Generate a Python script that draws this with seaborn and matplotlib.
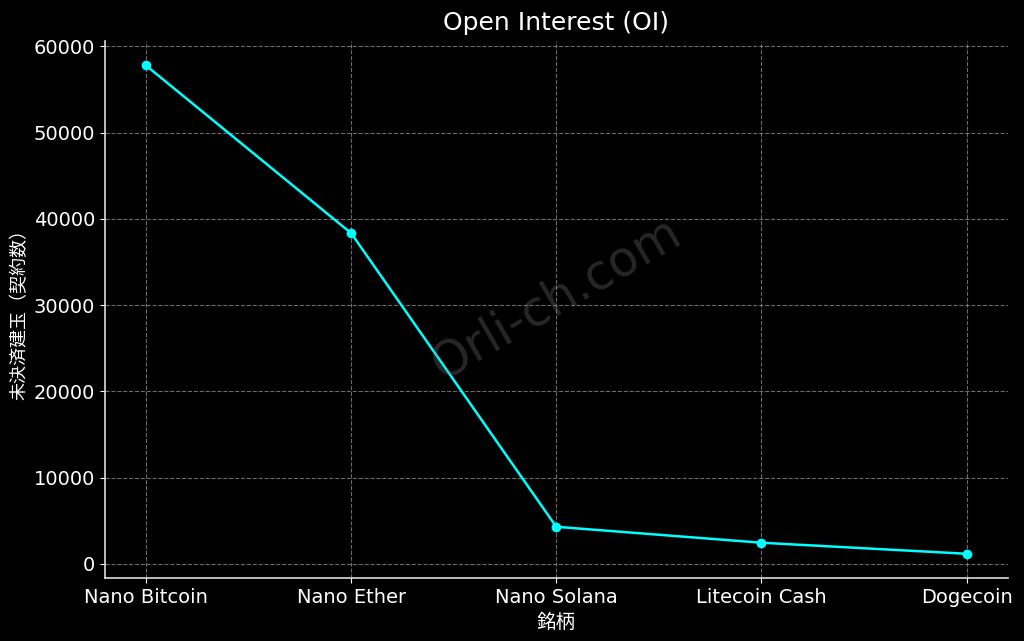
import numpy as np
import pandas as pd
import matplotlib
matplotlib.use('Agg')
import matplotlib.pyplot as plt
import seaborn as sns

# データ
symbols = ['Nano Bitcoin', 'Nano Ether', 'Nano Solana', 'Litecoin Cash', 'Dogecoin']
open_interest = [57800, 38350, 4290, 2440, 1160]

title = 'Open Interest (OI)'
x_label = '銘柄'
y_label = '未決済建玉（契約数）'
watermark = 'Orli-ch.com'

plt.style.use('dark_background')
plt.rcParams['font.family'] = ['DejaVu Sans', 'Noto Sans CJK JP']

df = pd.DataFrame({'symbol': symbols, 'oi': open_interest})

fig, ax = plt.subplots(figsize=(10.24, 6.41), dpi=100)

sns.lineplot(data=df, x='symbol', y='oi', ax=ax, color='cyan',
             marker='o', markersize=7, markeredgewidth=0, linewidth=1.8)

ax.set_title(title, fontsize=18, pad=8)
ax.set_xlabel(x_label, fontsize=14, labelpad=4)
ax.set_ylabel(y_label, fontsize=13)
ax.tick_params(axis='both', labelsize=14)

ax.grid(True, linestyle='--', color='#999999', linewidth=0.8, alpha=0.7)
ax.spines['top'].set_visible(False)
ax.spines['right'].set_visible(False)
for s in ['left', 'bottom']:
    ax.spines[s].set_color('#dddddd')
    ax.spines[s].set_linewidth(1.2)

# ウォーターマーク
ax.text(0.5, 0.52, watermark, transform=ax.transAxes, fontsize=35,
        color='gray', alpha=0.3, rotation=30, ha='center', va='center')

fig.subplots_adjust(left=0.1025, right=0.984, top=0.936, bottom=0.098)
plt.savefig('out.png', dpi=100)
